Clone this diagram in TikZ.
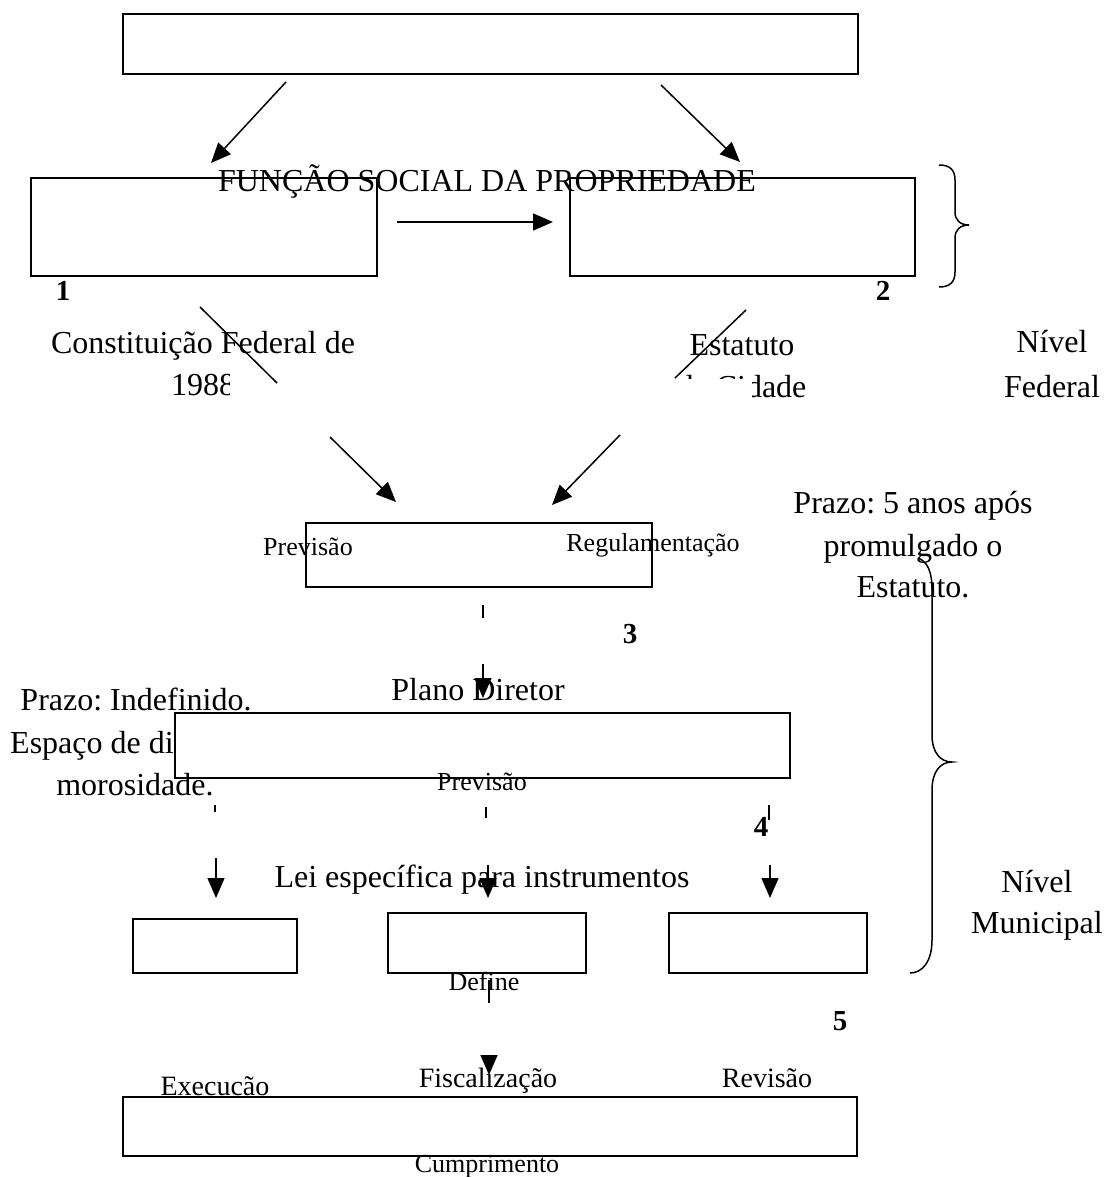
\documentclass[tikz,border=0pt]{standalone}
\usepackage{fontspec}
\setmainfont{Liberation Serif}
\frenchspacing
\usetikzlibrary{arrows.meta}
\tikzset{
  big/.style={font=\fontsize{32}{38}\selectfont, inner sep=0pt, anchor=base},
  mid/.style={font=\fontsize{28}{33}\selectfont, inner sep=0pt, anchor=base},
  small/.style={font=\fontsize{26}{31}\selectfont, inner sep=0pt, anchor=base},
  num/.style={font=\fontsize{29}{34}\selectfont\bfseries, inner sep=0pt, anchor=base},
  box/.style={draw, line width=1.5pt, fill=white, inner sep=0pt},
  conn/.style={line width=1.5pt},
  arr/.style={line width=1.5pt, -{Triangle[length=20pt,width=17pt]}},
  brace/.style={line width=1.5pt}
}
\begin{document}
\begin{tikzpicture}[x=1pt,y=-1pt]
\useasboundingbox (0,0) rectangle (1104,1177);
% text partly hidden by a box
\node[big, anchor=base west] (tespaco) at (10,753) {Espaço de di};
% boxes
\node[box, minimum width=735pt, minimum height=60pt] (b0) at (490.5,44) {};
\node[box, minimum width=346pt, minimum height=98pt] (b1) at (204,227) {};
\node[box, minimum width=345pt, minimum height=98pt] (b2) at (742.5,227) {};
\node[box, minimum width=346pt, minimum height=64pt] (b3) at (479,555) {};
\node[box, minimum width=615pt, minimum height=65pt] (b4) at (482.5,745.5) {};
\node[box, minimum width=164pt, minimum height=54pt] (b5a) at (215,946) {};
\node[box, minimum width=198pt, minimum height=60pt] (b5b) at (487,943) {};
\node[box, minimum width=198pt, minimum height=60pt] (b5c) at (768,943) {};
\node[box, minimum width=734pt, minimum height=59pt] (b6) at (490,1126.5) {};
% texts
\node[big] (tfuncao) at (487,192) {FUNÇÃO SOCIAL DA PROPRIEDADE};
\node[num] (n1) at (63,300) {1};
\node[num] (n2) at (883,300) {2};
\node[big] (tconst) at (203,353) {Constituição Federal de};
\begin{scope}
  \clip (0,360) rectangle (229,420);
  \node[big] (t1988) at (203,395) {1988};
\end{scope}
\node[big] (testat) at (742,355) {Estatuto};
\begin{scope}
  \clip (600,360) -- (850,360) -- (850,420) -- (752,420) -- (752,378) -- (600,378) -- cycle;
  \node[big] (tcidade) at (742,397) {da Cidade};
\end{scope}
\node[big] (tnivf) at (1052,352) {Nível};
\node[big] (tfed) at (1052,397) {Federal};
\node[big] (tpz1) at (913,513) {Prazo: 5 anos após};
\node[big] (tpz2) at (913,556) {promulgado o};
\node[big] (tpz3) at (913,597) {Estatuto.};
\node[small] (tprev3) at (308,555) {Previsão};
\node[small] (treg) at (653,551) {Regulamentação};
\node[num] (n3) at (630,643) {3};
\node[big] (tplano) at (478,700) {Plano Diretor};
\node[big] (tpzi) at (136,710) {Prazo: Indefinido.};
\node[big] (tmoros) at (135,795) {morosidade.};
\node[small] (tprev4) at (482,790) {Previsão};
\node[num] (n4) at (761,836) {4};
\node[big] (tlei) at (482,887) {Lei específica para instrumentos};
\node[big] (tnivm) at (1037,892) {Nível};
\node[big] (tmun) at (1037,933) {Municipal};
\node[small] (tdefine) at (484,990) {Define};
\node[num] (n5) at (840,1030) {5};
\node[mid] (texec) at (215,1095) {Execucão};
\node[mid] (tfisc) at (488,1087) {Fiscalização};
\node[mid] (trev) at (767,1087) {Revisão};
\node[small] (tcump) at (487,1172) {Cumprimento};
% connector ends
\coordinate (a1s) at (286,82);  \coordinate (a1e) at (211,163);
\coordinate (a2s) at (661,85);  \coordinate (a2e) at (740,162);
\coordinate (a3s) at (397,222); \coordinate (a3e) at (553,222);
\coordinate (l1s) at (200,307); \coordinate (l1e) at (277,383);
\coordinate (a4s) at (330,437); \coordinate (a4e) at (396,502);
\coordinate (l2s) at (746,310); \coordinate (l2e) at (675,378);
\coordinate (a5s) at (620,435); \coordinate (a5e) at (552,505);
\coordinate (k1s) at (483,605); \coordinate (k1e) at (483,618);
\coordinate (a6s) at (483,664); \coordinate (a6e) at (483,698);
\coordinate (k2s) at (215,805); \coordinate (k2e) at (215,812);
\coordinate (a7s) at (216,858); \coordinate (a7e) at (216,898);
\coordinate (k3s) at (486,807); \coordinate (k3e) at (486,818);
\coordinate (a8s) at (488,865); \coordinate (a8e) at (488,898);
\coordinate (k4s) at (769,805); \coordinate (k4e) at (769,820);
\coordinate (a9s) at (770,865); \coordinate (a9e) at (770,898);
\coordinate (k5s) at (489,980); \coordinate (k5e) at (489,1003);
\coordinate (a10s) at (489,1057); \coordinate (a10e) at (489,1075);
% connectors
\draw[arr] (a1s) -- (a1e);
\draw[arr] (a2s) -- (a2e);
\draw[arr] (a3s) -- (a3e);
\draw[conn] (l1s) -- (l1e);
\draw[arr] (a4s) -- (a4e);
\draw[conn] (l2s) -- (l2e);
\draw[arr] (a5s) -- (a5e);
\draw[conn] (k1s) -- (k1e);
\draw[arr] (a6s) -- (a6e);
\draw[conn] (k2s) -- (k2e);
\draw[arr] (a7s) -- (a7e);
\draw[conn] (k3s) -- (k3e);
\draw[arr] (a8s) -- (a8e);
\draw[conn] (k4s) -- (k4e);
\draw[arr] (a9s) -- (a9e);
\draw[conn] (k5s) -- (k5e);
\draw[arr] (a10s) -- (a10e);
% braces
\draw[brace] (939,165) .. controls (950,165) and (955,170) .. (955,180) -- (955,212)
  .. controls (955,220) and (960,225) .. (969,225)
  .. controls (960,225) and (955,230) .. (955,238) -- (955,272)
  .. controls (955,282) and (950,287) .. (939,287);
\draw[brace] (918,558) .. controls (928,562) and (932,572) .. (932,590) -- (932,735)
  .. controls (932,752) and (940,762) .. (952,762)
  .. controls (940,762) and (932,772) .. (932,790) -- (932,940)
  .. controls (932,962) and (922,973) .. (910,973);
\end{tikzpicture}
\end{document}
